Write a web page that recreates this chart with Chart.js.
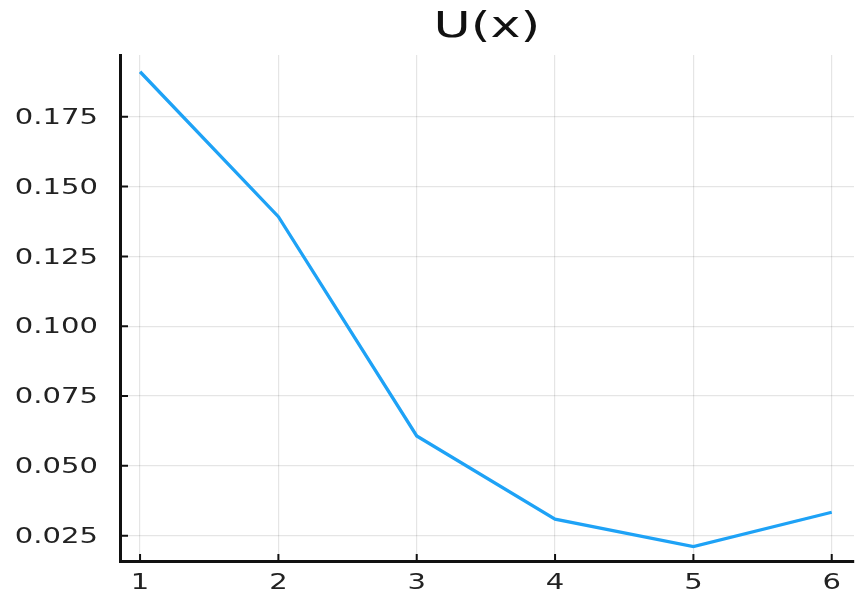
<!DOCTYPE html>
<html>
<head>
<meta charset="utf-8">
<script src="https://cdn.jsdelivr.net/npm/chart.js@4.4.1/dist/chart.umd.min.js"></script>
<style>
  html, body { margin:0; padding:0; background:#fff; }
  #wrap { width:856px; height:595px; }
</style>
</head>
<body>
<div id="wrap"><canvas id="chartU" width="856" height="595"></canvas></div>
<script>
// data
const xValues = [1, 2, 3, 4, 5, 6];
const uValues = [0.1911, 0.1392, 0.0607, 0.0309, 0.0211, 0.0334];
const xTicks = [1, 2, 3, 4, 5, 6];
const yTicks = [0.025, 0.05, 0.075, 0.1, 0.125, 0.15, 0.175];
const titleText = "U(x)";

const FONT = "'DejaVu Sans', sans-serif";
const STRETCH = 1.32; // the reference text is wide, so glyphs get stretched sideways
const $ = (id) => document.getElementById(id);

function wideText(ctx, txt, x, y, sx){
  ctx.save();
  ctx.translate(x, y);
  ctx.scale(sx, 1);
  ctx.fillText(txt, 0, 0);
  ctx.restore();
}

// title centred over the plot area, like the Plots.jl output
const titlePlugin = {
  id: "plotTitle",
  afterDraw(chart){
    const {ctx, chartArea} = chart;
    ctx.save();
    ctx.font = "35px " + FONT;
    ctx.fillStyle = "#111";
    ctx.textAlign = "center";
    ctx.textBaseline = "middle";
    wideText(ctx, titleText, (chartArea.left + chartArea.right) / 2, 28, 1.45);
    ctx.restore();
  }
};

// tick labels and short tick marks pointing into the plot
const axisDeco = {
  id: "axisDeco",
  afterDraw(chart){
    const {ctx, chartArea, scales} = chart;
    ctx.save();
    ctx.strokeStyle = "#111";
    ctx.lineWidth = 2;
    ctx.beginPath();
    scales.x.ticks.forEach(t=>{
      const px = scales.x.getPixelForValue(t.value);
      ctx.moveTo(px, chartArea.bottom);
      ctx.lineTo(px, chartArea.bottom - 7);
    });
    scales.y.ticks.forEach(t=>{
      const py = scales.y.getPixelForValue(t.value);
      ctx.moveTo(chartArea.left, py);
      ctx.lineTo(chartArea.left + 8, py);
    });
    ctx.stroke();

    ctx.font = "22px " + FONT;
    ctx.fillStyle = "#222";
    ctx.textBaseline = "middle";
    ctx.textAlign = "center";
    scales.x.ticks.forEach(t=>{
      wideText(ctx, String(t.value), scales.x.getPixelForValue(t.value), chartArea.bottom + 22, STRETCH);
    });
    ctx.textAlign = "right";
    scales.y.ticks.forEach(t=>{
      wideText(ctx, t.value.toFixed(3), chartArea.left - 22, scales.y.getPixelForValue(t.value) + 1.5, STRETCH);
    });
    ctx.restore();
  }
};

new Chart($("chartU").getContext("2d"), {
  type: "line",
  data: {
    datasets: [{
      data: xValues.map((x, i) => ({x, y: uValues[i]})),
      borderColor: "#1ea2f6",
      borderWidth: 3.3,
      pointRadius: 0,
      fill: false,
      tension: 0
    }]
  },
  options: {
    responsive: false,
    animation: false,
    layout: { padding: { top: 55, right: 2, left: 0, bottom: 0 } },
    plugins: { legend: { display: false }, title: { display: false }, tooltip: { enabled: false } },
    scales: {
      x: {
        type: "linear",
        min: 0.855, max: 6.161,
        afterBuildTicks: (s) => { s.ticks = xTicks.map(v => ({value: v})); },
        afterFit: (s) => { s.height = 34; },
        grid: { color: "rgba(0,0,0,0.1)", lineWidth: 1.2, drawTicks: false },
        border: { display: true, color: "#111", width: 3 },
        ticks: { display: false }
      },
      y: {
        type: "linear",
        min: 0.01594, max: 0.1971,
        afterBuildTicks: (s) => { s.ticks = yTicks.map(v => ({value: v})); },
        afterFit: (s) => { s.width = 120; },
        grid: { color: "rgba(0,0,0,0.1)", lineWidth: 1.2, drawTicks: false },
        border: { display: true, color: "#111", width: 3 },
        ticks: { display: false }
      }
    }
  },
  plugins: [titlePlugin, axisDeco]
});
</script>
</body>
</html>
